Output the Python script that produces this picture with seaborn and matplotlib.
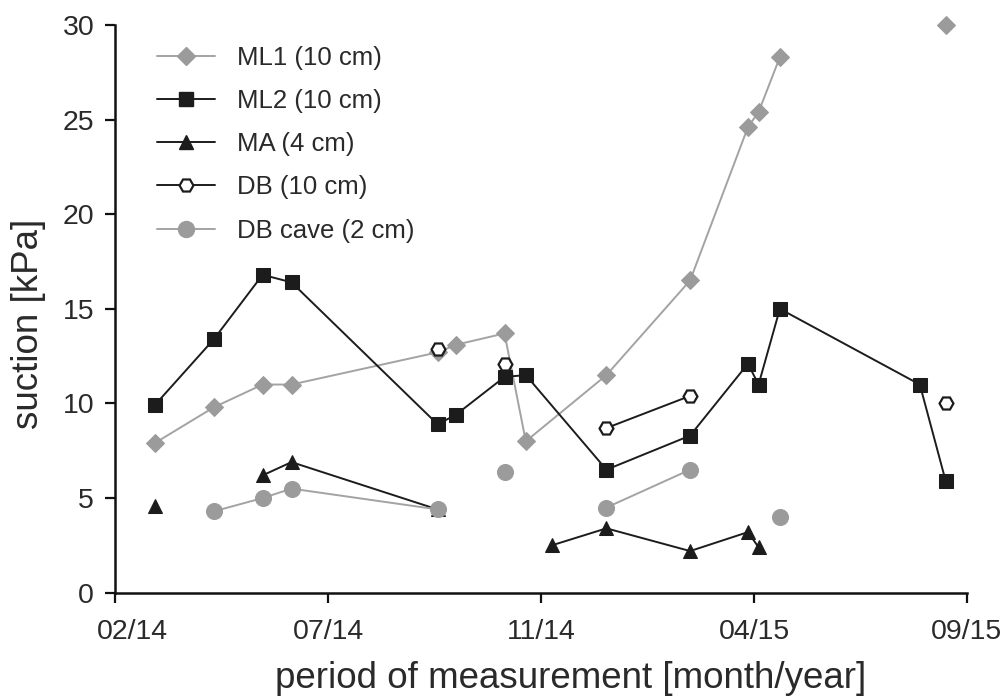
import matplotlib
matplotlib.use("Agg")
import matplotlib.pyplot as plt
import matplotlib.dates as mdates
import matplotlib.transforms as mtransforms
from matplotlib.lines import Line2D
import numpy as np
import pandas as pd
import seaborn as sns

# ---- data -------------------------------------------------------------
ml1_dates = ["2014-03-18", "2014-04-26", "2014-05-28", "2014-06-16", "2014-09-20",
             "2014-10-02", "2014-11-03", "2014-11-17", "2015-01-09", "2015-03-05",
             "2015-04-12", "2015-04-19", "2015-05-03", "2015-08-20"]
ml1_values = [7.9, 9.8, 11.0, 11.0, 12.7, 13.1, 13.7, 8.0, 11.5, 16.5, 24.6, 25.4, 28.3, 30.0]
ml1_segment = [0, 0, 0, 0, 0, 0, 0, 0, 0, 0, 0, 0, 0, 1]

ml2_dates = ["2014-03-18", "2014-04-26", "2014-05-28", "2014-06-16", "2014-09-20",
             "2014-10-02", "2014-11-03", "2014-11-17", "2015-01-09", "2015-03-05",
             "2015-04-12", "2015-04-19", "2015-05-03", "2015-08-03", "2015-08-20"]
ml2_values = [9.9, 13.4, 16.8, 16.4, 8.9, 9.4, 11.4, 11.5, 6.5, 8.3, 12.1, 11.0, 15.0, 11.0, 5.9]
ml2_segment = [0] * 15

ma_dates = ["2014-03-18", "2014-05-28", "2014-06-16", "2014-09-20", "2014-12-04",
            "2015-01-09", "2015-03-05", "2015-04-12", "2015-04-19"]
ma_values = [4.6, 6.2, 6.9, 4.4, 2.5, 3.4, 2.2, 3.2, 2.4]
ma_segment = [0, 1, 1, 1, 2, 2, 2, 2, 2]

db_dates = ["2014-09-20", "2014-11-03", "2015-01-09", "2015-03-05", "2015-08-20"]
db_values = [12.9, 12.1, 8.7, 10.4, 10.0]
db_segment = [0, 1, 2, 2, 3]

cave_dates = ["2014-04-26", "2014-05-28", "2014-06-16", "2014-09-20", "2014-11-03",
              "2015-01-09", "2015-03-05", "2015-05-03"]
cave_values = [4.3, 5.0, 5.5, 4.4, 6.4, 4.5, 6.5, 4.0]
cave_segment = [0, 0, 0, 0, 1, 2, 2, 3]

series_labels = ["ML1 (10 cm)", "ML2 (10 cm)", "MA (4 cm)", "DB (10 cm)", "DB cave (2 cm)"]
tick_dates = ["2014-02-20", "2014-07-10", "2014-11-27", "2015-04-16", "2015-09-03"]
y_ticks = [0, 5, 10, 15, 20, 25, 30]

# ---- styling ----------------------------------------------------------
sns.set_style("ticks")
plt.rcParams["font.family"] = ["Liberation Sans", "DejaVu Sans"]

GREY = "#9b9b9b"
GREY_LINE = "#a3a3a3"
BLACK = "#1c1c1c"
TEXT = "#2a2a2a"

styles = [
    dict(marker="D", color=GREY_LINE, markerfacecolor=GREY, markeredgecolor=GREY, markersize=9.5),
    dict(marker="s", color=BLACK, markerfacecolor=BLACK, markeredgecolor=BLACK, markersize=9.5),
    dict(marker="^", color=BLACK, markerfacecolor=BLACK, markeredgecolor=BLACK, markersize=10.5),
    dict(marker="H", color=BLACK, markerfacecolor="white", markeredgecolor=BLACK, markersize=10,
         markeredgewidth=1.6),
    dict(marker="o", color=GREY_LINE, markerfacecolor=GREY, markeredgecolor=GREY, markersize=11.5),
]

frames = [
    pd.DataFrame({"date": pd.to_datetime(ml1_dates), "suction": ml1_values, "segment": ml1_segment}),
    pd.DataFrame({"date": pd.to_datetime(ml2_dates), "suction": ml2_values, "segment": ml2_segment}),
    pd.DataFrame({"date": pd.to_datetime(ma_dates), "suction": ma_values, "segment": ma_segment}),
    pd.DataFrame({"date": pd.to_datetime(db_dates), "suction": db_values, "segment": db_segment}),
    pd.DataFrame({"date": pd.to_datetime(cave_dates), "suction": cave_values, "segment": cave_segment}),
]

fig = plt.figure(figsize=(10.03, 7.0), dpi=100)
ax = fig.add_axes([0.1147, 0.1533, 0.8494, 0.8110])

for df, st in zip(frames, styles):
    sns.lineplot(data=df, x="date", y="suction", units="segment", estimator=None,
                 linewidth=1.4, legend=False, ax=ax, clip_on=False, **st)

# ---- axes ---------------------------------------------------------------
ticks = pd.to_datetime(tick_dates)
ax.set_xlim(ticks[0], ticks[-1])
ax.set_xticks(ticks)
ax.xaxis.set_major_formatter(mdates.DateFormatter("%m/%y"))
ax.set_ylim(0, 30)
ax.set_yticks(y_ticks)

for side in ("top", "right"):
    ax.spines[side].set_visible(False)
for side in ("left", "bottom"):
    ax.spines[side].set_linewidth(1.8)
    ax.spines[side].set_color("#111111")
ax.tick_params(axis="both", direction="out", length=7, width=1.6, color="#111111",
               labelsize=20.5, labelcolor=TEXT)
ax.tick_params(axis="x", pad=12)
ax.tick_params(axis="y", pad=8)

# nudge the first date label right so it clears the y axis corner
fig.canvas.draw()
first = ax.get_xticklabels()[0]
first.set_transform(first.get_transform()
                    + mtransforms.ScaledTranslation(0.17, 0, fig.dpi_scale_trans))

ax.set_xlabel("period of measurement [month/year]", fontsize=26.5, color=TEXT, va="center")
ax.set_ylabel("suction [kPa]", fontsize=26.5, color=TEXT, va="center")
ax.xaxis.set_label_coords(0.535, -0.152)
ax.yaxis.set_label_coords(-0.102, 0.474)

# ---- legend -------------------------------------------------------------
handles = [Line2D([0], [0], linewidth=1.4, **st) for st in styles]
fig.legend(handles, series_labels, loc="upper left", bbox_to_anchor=(157 / 1003, 0.935),
           frameon=False, fontsize=18.5, handlelength=2.25, handletextpad=0.85,
           labelspacing=0.75, borderpad=0, borderaxespad=0, labelcolor=TEXT)

fig.savefig("out.png", dpi=100)
